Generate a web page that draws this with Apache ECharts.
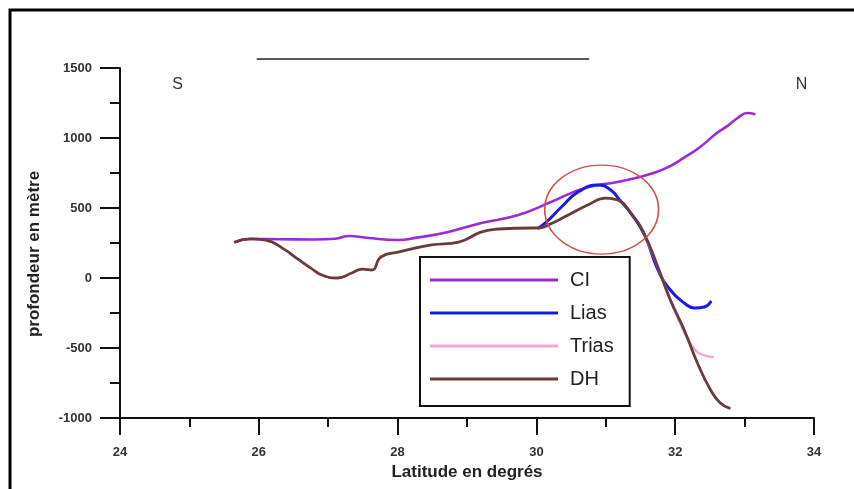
<!DOCTYPE html>
<html><head><meta charset="utf-8">
<script src="https://cdn.jsdelivr.net/npm/echarts@6/dist/echarts.min.js"></script>
<style>html,body{margin:0;padding:0;background:#fff}#c{width:854px;height:489px}</style>
</head><body><div id="c"></div>
<script>
// ---- data ----
const xTickLabels = [24, 26, 28, 30, 32, 34];
const yTickLabels = [-1000, -500, 0, 500, 1000, 1500];
const seriesNames = ['CI', 'Lias', 'Trias', 'DH'];

const ciLat   = [25.66, 25.87, 26.3, 26.8, 27.1, 27.3, 27.55, 28.0, 28.3, 28.73, 29.21, 29.74, 30.21, 30.7, 31.17, 31.46, 31.65, 31.89, 32.13, 32.36, 32.6, 32.75, 32.9, 33.04, 33.14];
const ciDepth = [257, 279, 277, 275, 280, 300, 288, 271, 290, 329, 393, 450, 543, 643, 686, 718, 745, 790, 860, 936, 1036, 1085, 1143, 1179, 1171];

const liasLat   = [30.03, 30.13, 30.36, 30.6, 30.89, 31.07, 31.2, 31.36, 31.56, 31.75, 31.93, 32.13, 32.28, 32.42, 32.51];
const liasDepth = [357, 393, 507, 614, 664, 629, 557, 464, 307, 60, -86, -179, -214, -207, -171];

const triasLat   = [31.56, 31.75, 31.93, 32.13, 32.22, 32.32, 32.42, 32.54];
const triasDepth = [307, 79, -157, -390, -470, -529, -553, -564];

const dhLat   = [25.66, 25.87, 26.1, 26.35, 26.58, 26.75, 26.91, 27.13, 27.34, 27.49, 27.63, 27.76, 28.02, 28.49, 28.88, 29.21, 29.45, 29.93, 30.03, 30.17, 30.46, 30.74, 31.0, 31.17, 31.36, 31.56, 31.75, 31.93, 32.13, 32.32, 32.51, 32.65, 32.78];
const dhDepth = [257, 279, 270, 210, 129, 70, 21, 0, 36, 64, 57, 150, 186, 236, 257, 329, 350, 357, 357, 379, 450, 521, 571, 557, 464, 307, 79, -157, -371, -607, -800, -893, -929];

// ---- chart ----
const FONT = '"Liberation Sans", Arial, Helvetica, sans-serif';
const zip = (a, b) => a.map((v, i) => [v, b[i]]);
const colors = ['#9A2BD6', '#1A1AE6', '#F2A6D6', '#6B3B3B'];
const widths = [2.6, 3, 2.5, 2.8];
const seriesData = [zip(ciLat, ciDepth), zip(liasLat, liasDepth), zip(triasLat, triasDepth), zip(dhLat, dhDepth)];

const axisCommon = {
  type: 'value',
  splitLine: { show: false },
  axisLine: { show: true, onZero: false, lineStyle: { color: '#111', width: 2 } },
  axisTick: { show: true, lineStyle: { color: '#111', width: 2 } },
  minorTick: { show: true, splitNumber: 2, lineStyle: { color: '#111', width: 2 } },
  axisLabel: { fontFamily: FONT, fontWeight: 'bold', fontSize: 13, color: '#333', formatter: v => String(v) },
  nameLocation: 'middle',
  nameTextStyle: { fontFamily: FONT, fontWeight: 'bold', fontSize: 17, color: '#222' }
};

const chart = echarts.init(document.getElementById('c'));
chart.setOption({
  animation: false,
  backgroundColor: '#fff',
  grid: { left: 120, right: 40, top: 68, bottom: 71 },
  legend: {
    data: seriesNames,
    orient: 'vertical', left: 420, top: 257,
    icon: 'rect', itemWidth: 128, itemHeight: 3, itemGap: 13,
    padding: [13, 16, 17, 10],
    borderColor: '#111', borderWidth: 2, backgroundColor: '#fff',
    textStyle: { fontFamily: FONT, fontSize: 20, color: '#222', padding: [0, 0, 0, 7] }
  },
  xAxis: Object.assign({}, axisCommon, {
    min: xTickLabels[0], max: xTickLabels[xTickLabels.length - 1], interval: 2,
    name: 'Latitude en degrés', nameGap: 42,
    axisTick: Object.assign({}, axisCommon.axisTick, { length: 17 }),
    minorTick: Object.assign({}, axisCommon.minorTick, { length: 9 }),
    axisLabel: Object.assign({}, axisCommon.axisLabel, { margin: 28 })
  }),
  yAxis: Object.assign({}, axisCommon, {
    min: yTickLabels[0], max: yTickLabels[yTickLabels.length - 1], interval: 500,
    name: 'profondeur en mètre', nameGap: 77,
    nameTextStyle: Object.assign({}, axisCommon.nameTextStyle, { padding: [0, 22, 0, 0] }),
    axisTick: Object.assign({}, axisCommon.axisTick, { length: 20 }),
    minorTick: Object.assign({}, axisCommon.minorTick, { length: 10 }),
    axisLabel: Object.assign({}, axisCommon.axisLabel, { margin: 28 })
  }),
  series: seriesNames.map((n, i) => ({
    name: n, type: 'line', data: seriesData[i],
    showSymbol: false, symbol: 'none', smooth: 0.5,
    lineStyle: { color: colors[i], width: widths[i], cap: 'round', join: 'round' },
    itemStyle: { color: colors[i] },
    z: 2 + i
  }))
});

// annotations placed in data coordinates
const px = (lat, d) => chart.convertToPixel({ gridIndex: 0 }, [lat, d]);
const barA = px(25.97, 1565), barB = px(30.76, 1565);
const ellC = px(30.94, 489), ellR = px(30.94 + 0.82, 489), ellT = px(30.94, 489 + 318);
const rx = ellR[0] - ellC[0], ry = ellC[1] - ellT[1];
const sPos = px(24.83, 1379), nPos = px(33.82, 1379);

chart.setOption({
  graphic: [
    { type: 'rect', shape: { x: 10, y: 10, width: 900, height: 600 }, style: { fill: 'none', stroke: '#000', lineWidth: 3 }, silent: true },
    { type: 'line', shape: { x1: barA[0], y1: barA[1], x2: barB[0], y2: barB[1] }, style: { stroke: '#222', lineWidth: 1.5 } },
    { type: 'circle', x: ellC[0], y: ellC[1], scaleY: ry / rx, shape: { cx: 0, cy: 0, r: rx }, style: { fill: 'none', stroke: '#D24A4A', lineWidth: 1.6, strokeNoScale: true }, z: 20 },
    { type: 'text', x: sPos[0], y: sPos[1], style: { text: 'S', font: '16px ' + FONT, fill: '#333', align: 'center', verticalAlign: 'middle' } },
    { type: 'text', x: nPos[0], y: nPos[1], style: { text: 'N', font: '16px ' + FONT, fill: '#333', align: 'center', verticalAlign: 'middle' } }
  ]
});
</script>
</body></html>
